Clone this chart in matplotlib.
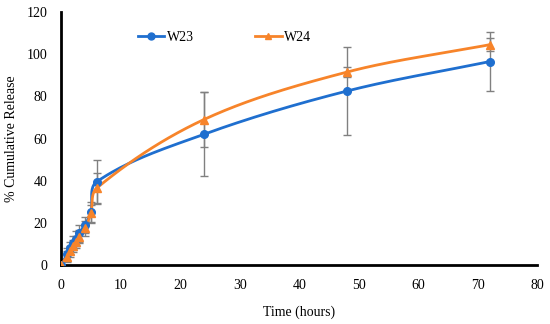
import numpy as np
import matplotlib
matplotlib.use('Agg')
import matplotlib.pyplot as plt

# data
time_h = [0, 1, 1.5, 2, 2.5, 3, 4, 5, 6, 24, 48, 72]
w23 = [0, 5, 8, 10.5, 12.5, 15, 19, 25, 39.5, 62, 82.5, 96.5]
w23_err = [0, 3, 3, 3.5, 3.5, 4, 4, 5, 10.5, 20, 21, 14]
w24 = [0, 4, 6.5, 9, 11, 13.5, 17.5, 24.5, 36.5, 69, 91.5, 104.5]
w24_err = [0, 2.5, 2.5, 3, 3, 3, 3.5, 4, 7, 13, 2.5, 3]

x_ticks = [0, 10, 20, 30, 40, 50, 60, 70, 80]
y_ticks = [0, 20, 40, 60, 80, 100, 120]


def smooth(x, y, sx=5.9, sy=2.11, n=40):
    # bezier smoothing, tangents worked out in screen-like units so no loops
    p = np.column_stack([np.asarray(x, float) * sx, np.asarray(y, float) * sy])
    m = len(p)
    tang = []
    for i in range(m):
        d = p[min(i + 1, m - 1)] - p[max(i - 1, 0)]
        tang.append(d / (np.hypot(*d) or 1))
    out = [p[0]]
    for i in range(m - 1):
        seg = np.hypot(*(p[i + 1] - p[i]))
        c1 = p[i] + tang[i] * seg / 3
        c2 = p[i + 1] - tang[i + 1] * seg / 3
        t = np.linspace(0, 1, n)[1:, None]
        pts = (1 - t) ** 3 * p[i] + 3 * (1 - t) ** 2 * t * c1 + 3 * (1 - t) * t ** 2 * c2 + t ** 3 * p[i + 1]
        out.extend(pts)
    out = np.array(out)
    return out[:, 0] / sx, out[:, 1] / sy


plt.rcParams['font.family'] = ['Liberation Serif', 'DejaVu Serif']
fig = plt.figure(figsize=(5.5, 3.24), dpi=100)
ax = fig.add_axes([0.111, 0.182, 0.866, 0.781])

blue = '#1f6fcf'
orange = '#f7842a'

ax.errorbar(time_h, w23, yerr=w23_err, fmt='none', ecolor='#808080', elinewidth=1, capsize=3, zorder=1)
ax.errorbar(time_h, w24, yerr=w24_err, fmt='none', ecolor='#808080', elinewidth=1, capsize=3, zorder=1)

lx, ly = smooth(time_h, w23)
ax.plot(lx, ly, color=blue, lw=2, zorder=2)
lx, ly = smooth(time_h, w24)
ax.plot(lx, ly, color=orange, lw=2, zorder=3)
ax.plot(time_h, w23, 'o', color=blue, ms=5.5, zorder=4)
ax.plot(time_h, w24, '^', color=orange, ms=5.5, zorder=5)

# legend handles
h1, = ax.plot([], [], '-o', color=blue, lw=2, ms=5)
h2, = ax.plot([], [], '-^', color=orange, lw=2, ms=5)
ax.legend([h1, h2], ['W23', 'W24'], ncol=2, frameon=False, loc='upper left',
          bbox_to_anchor=(0.135, 0.975), columnspacing=4.4, handlelength=1.9,
          handletextpad=0.2, fontsize=10)

ax.set_xlim(0, 80)
ax.set_ylim(0, 120)
ax.set_xticks(x_ticks)
ax.set_yticks(y_ticks)
ax.tick_params(length=0, labelsize=10, pad=10)
for s in ['top', 'right']:
    ax.spines[s].set_visible(False)
for s in ['left', 'bottom']:
    ax.spines[s].set_linewidth(2)
ax.set_xlabel('Time (hours)', fontsize=10, labelpad=10)
ax.set_ylabel('% Cumulative Release', fontsize=10, labelpad=6)

fig.savefig('out.png', dpi=100)
